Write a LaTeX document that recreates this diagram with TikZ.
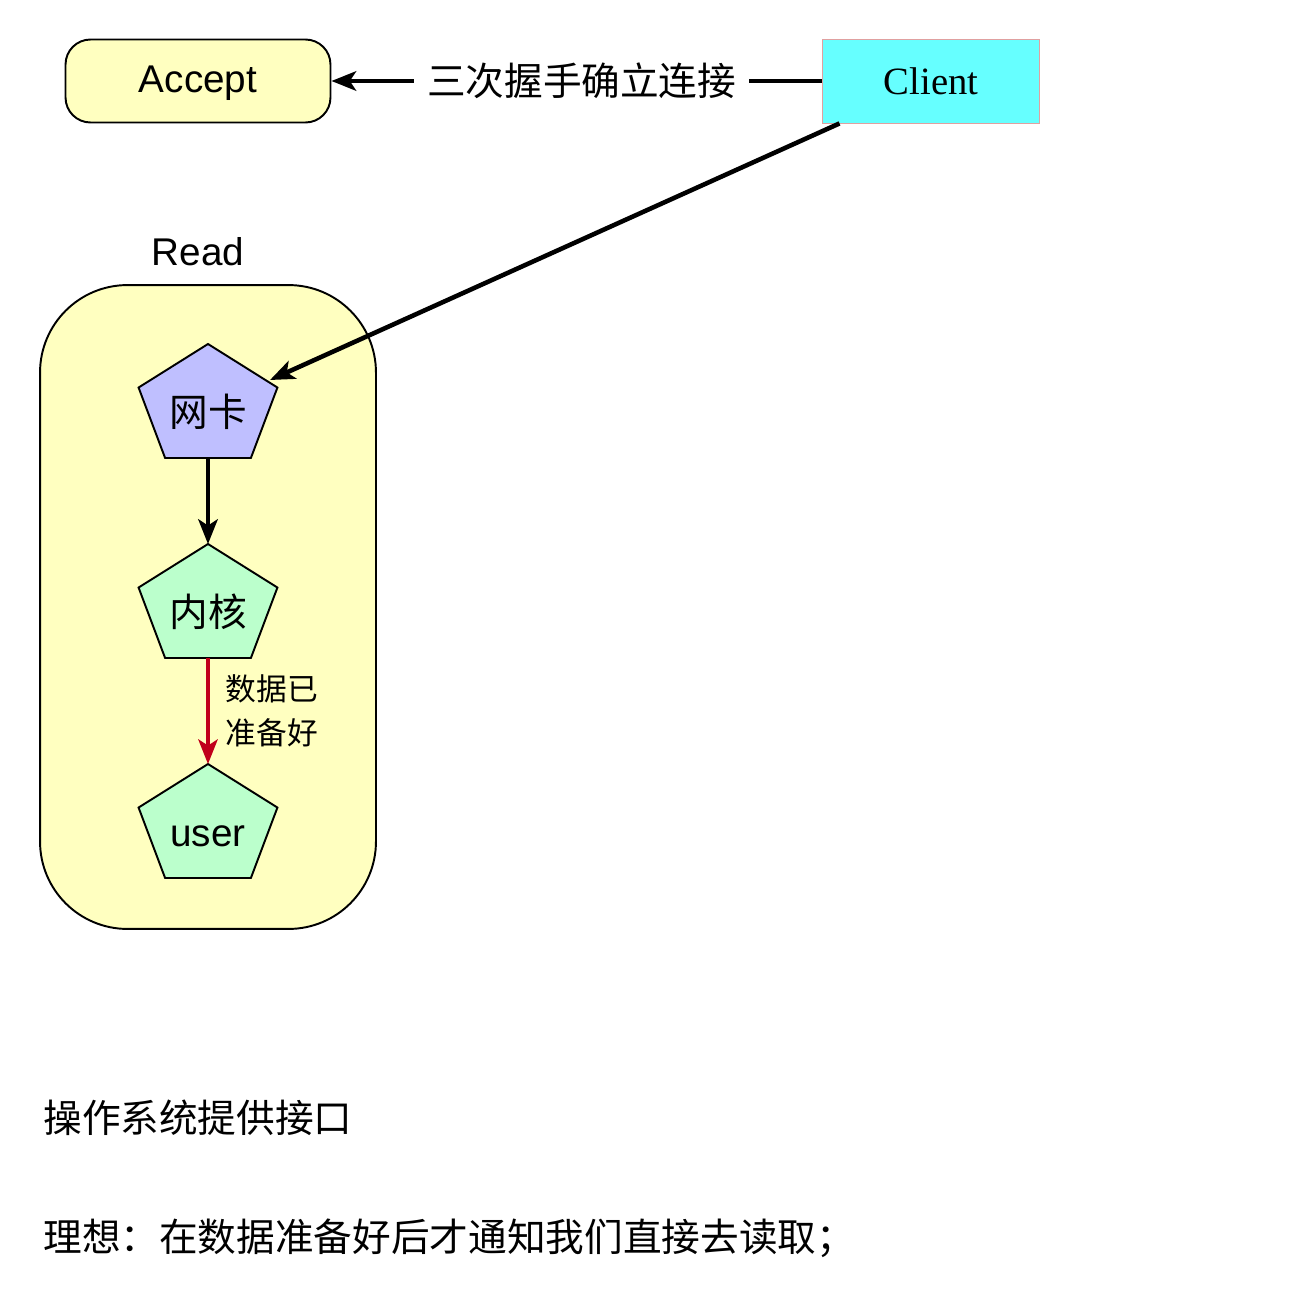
\documentclass[tikz,border=0pt]{standalone}
\usepackage{fontspec}
\setmainfont{Liberation Sans}
\newfontfamily\cjk{Noto Sans CJK SC}
\newfontfamily\seriffont{Liberation Serif}
\usetikzlibrary{arrows.meta,calc}
\definecolor{paleyellow}{RGB}{255,255,192}
\definecolor{nicblue}{RGB}{191,191,255}
\definecolor{kernelgreen}{RGB}{187,255,204}
\definecolor{clientcyan}{RGB}{102,255,255}
\definecolor{clientedge}{RGB}{224,160,160}
\definecolor{readyred}{RGB}{192,0,26}
\def\bigtxt{\fontsize{22pt}{26pt}\selectfont}
\def\midtxt{\fontsize{17.5pt}{25pt}\selectfont}
\newcommand\pentnode[4]{%
  \draw[pentline, fill=#3, shift={(#2)}] (90:73 and 63) -- (162:73 and 63) -- (234:73 and 63) -- (306:73 and 63) -- (18:73 and 63) -- cycle;
  \node[pentlabel] (#1) at ($(#2)+(0,-5)$) {#4};
  \coordinate (#1-top) at ($(#2)+(0,63)$);
  \coordinate (#1-bot) at ($(#2)+(0,-51)$);
  \coordinate (#1-ne) at ($(#2)+(62,27)$);
}

\begin{document}
\begin{tikzpicture}[x=0.02cm, y=0.02cm,
  pentline/.style={draw=black, line width=1.1pt},
  pentlabel/.style={font=\bigtxt, inner sep=0pt, text height=19pt, text depth=3pt},
  accbox/.style={draw, line width=1.1pt, fill=paleyellow, rounded corners=0.5cm, minimum width=5.3cm, minimum height=1.66cm, font=\bigtxt, text height=17pt, text depth=4pt},
  clibox/.style={draw=clientedge, line width=0.5pt, fill=clientcyan, minimum width=4.34cm, minimum height=1.68cm, font=\seriffont\bigtxt},
  readbox/.style={draw, line width=1.1pt, fill=paleyellow, rounded corners=1.75cm, minimum width=6.72cm, minimum height=12.88cm},
  link/.style={line width=2.6pt, -{Stealth[length=14pt, width=11pt, inset=3.5pt]}},
  ready/.style={link, draw=readyred, fill=readyred, line width=2.2pt}]
\useasboundingbox (0,0) rectangle (1311,-1288);
\node[accbox] (accept) at (198,-81) {Accept};
\node[clibox] (client) at (931,-81) {Client};
\node[readbox] (read) at (208,-607) {};
\node[font=\bigtxt] (readtitle) at (198,-252) {Read};
\pentnode{nic}{208,-407}{nicblue}{\cjk 网卡}
\pentnode{kernel}{208,-607}{kernelgreen}{\cjk 内核}
\pentnode{user}{208,-827}{kernelgreen}{user}
\draw[link] (client) -- node[pos=0.49, fill=white, inner xsep=0.26cm, font=\cjk\bigtxt] (handshake) {三次握手确立连接} (accept);
\draw[link] ($(client.south west)!0.08!(client.south east)$) -- (nic-ne);
\draw[link] (nic-bot) -- (kernel-top);
\draw[ready] (kernel-bot) -- node[right, xshift=0.2cm, align=left, font=\cjk\midtxt] (readylabel) {数据已\\准备好} (user-top);
\node[anchor=west, inner sep=0pt, font=\cjk\bigtxt] (api) at (43,-1118) {操作系统提供接口};
\node[anchor=west, inner sep=0pt, font=\cjk\bigtxt] (ideal) at (43,-1238) {理想：在数据准备好后才通知我们直接去读取；};
\end{tikzpicture}
\end{document}
